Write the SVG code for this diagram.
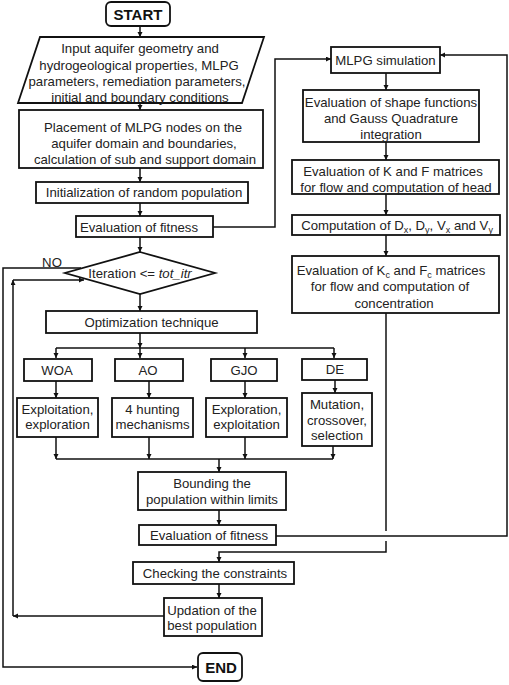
<svg xmlns="http://www.w3.org/2000/svg" width="509" height="685" viewBox="0 0 509 685">
<defs>
<marker id="arr" markerUnits="userSpaceOnUse" markerWidth="6" markerHeight="6" refX="5" refY="2.5" orient="auto">
<path d="M0,0 L5,2.5 L0,5 z" fill="#111"/>
</marker>
<style>
.box{fill:#fff;stroke:#111;stroke-width:1.8}
.t{font-family:"Liberation Sans",Arial,sans-serif;font-size:13.2px;fill:#222;text-anchor:middle}
.b{font-family:"Liberation Sans",Arial,sans-serif;font-size:15px;font-weight:bold;fill:#111;text-anchor:middle}
.c{fill:none;stroke:#111;stroke-width:1.5}
.a{fill:none;stroke:#111;stroke-width:1.5;marker-end:url(#arr)}
.s{font-size:9px}
</style>
</defs>
<rect width="509" height="685" fill="#fff"/>

<g id="connectors">
<path class="a" d="M140,26 V37"/>
<path class="a" d="M140,103 V110"/>
<path class="a" d="M140,168 V182"/>
<path class="a" d="M140,203 V216"/>
<path class="a" d="M140,237 V252"/>
<path class="a" d="M213,227 H275 V59 H331"/>
<path class="a" d="M386,73 V90"/>
<path class="a" d="M386,142 V160"/>
<path class="a" d="M386,194 V215"/>
<path class="a" d="M386,235 V256"/>
<path class="a" d="M140,294 V311"/>
<path class="a" d="M140,333 V348"/>
<path class="a" d="M140,348 V358"/>
<path class="c" d="M56,348 H334"/>
<path class="a" d="M56,348 V358"/>
<path class="a" d="M245,348 V358"/>
<path class="a" d="M334,348 V358"/>
<path class="a" d="M56,381 V398"/>
<path class="a" d="M149,381 V398"/>
<path class="a" d="M245,381 V398"/>
<path class="a" d="M335,380 V393"/>
<path class="a" d="M56,437 V459"/>
<path class="a" d="M149,437 V459"/>
<path class="a" d="M245,437 V459"/>
<path class="a" d="M333,446 V459"/>
<path class="c" d="M56,459 H333"/>
<path class="a" d="M219,459 V472"/>
<path class="a" d="M219,510 V525"/>
<path class="a" d="M276,536 H507 V55 H440"/>
<path class="c" d="M386,313 V531"/>
<path class="a" d="M386,541 V552 H219 V562"/>
<path class="a" d="M219,584 V598"/>
<path class="a" d="M164,616 H13"/>
<path class="a" d="M13,616 V280"/>
<path class="a" d="M13,280 H84"/>
<path class="a" d="M81,268 H3 V667 H197"/>
</g>

<g id="start">
<rect class="box" x="106" y="2" width="64" height="24" rx="5"/>
<text class="b" x="138" y="19.5">START</text>
</g>

<g id="input">
<polygon class="box" points="40,37 264,37 242,103 18,103"/>
<text class="t" x="140" y="53">Input aquifer geometry and</text>
<text class="t" x="139" y="69.5">hydrogeological properties, MLPG</text>
<text class="t" x="137" y="85.5">parameters, remediation parameters,</text>
<text class="t" x="140" y="101.5">initial and boundary conditions</text>
</g>

<g id="placement">
<rect class="box" x="19" y="110" width="244" height="58"/>
<text class="t" x="143" y="131.5">Placement of MLPG nodes on the</text>
<text class="t" x="144" y="147.5">aquifer domain and boundaries,</text>
<text class="t" x="145" y="163.5">calculation of sub and support domain</text>
</g>

<g id="init">
<rect class="box" x="36" y="182" width="212" height="21"/>
<text class="t" x="144" y="197">Initialization of random population</text>
</g>

<g id="eval1">
<rect class="box" x="76" y="216" width="137" height="21"/>
<text class="t" x="139" y="231.5">Evaluation of fitness</text>
</g>

<g id="decision">
<polygon class="box" points="140,252 215,273 140,294 65,273"/>
<text class="t" x="140" y="277.5">Iteration &lt;= <tspan font-style="italic">tot_itr</tspan></text>
<text class="t" x="52" y="266.5">NO</text>
</g>

<g id="optim">
<rect class="box" x="46" y="311" width="211" height="22"/>
<text class="t" x="151.5" y="326.5">Optimization technique</text>
</g>

<g id="woa">
<rect class="box" x="24" y="359" width="68" height="22"/>
<text class="t" x="57" y="374.5">WOA</text>
</g>
<g id="ao">
<rect class="box" x="115" y="359" width="68" height="22"/>
<text class="t" x="148" y="374.5">AO</text>
</g>
<g id="gjo">
<rect class="box" x="211" y="359" width="66" height="22"/>
<text class="t" x="244" y="374.5">GJO</text>
</g>
<g id="de">
<rect class="box" x="302" y="359" width="65" height="21"/>
<text class="t" x="335" y="374">DE</text>
</g>

<g id="woa2">
<rect class="box" x="17" y="398" width="81" height="39"/>
<text class="t" x="57.5" y="413.5">Exploitation,</text>
<text class="t" x="57.5" y="429">exploration</text>
</g>
<g id="ao2">
<rect class="box" x="112" y="398" width="81" height="39"/>
<text class="t" x="152.5" y="413.5">4 hunting</text>
<text class="t" x="152.5" y="429">mechanisms</text>
</g>
<g id="gjo2">
<rect class="box" x="206" y="398" width="81" height="39"/>
<text class="t" x="246.5" y="413.5">Exploration,</text>
<text class="t" x="246.5" y="429">exploitation</text>
</g>
<g id="de2">
<rect class="box" x="302" y="393" width="70" height="53"/>
<text class="t" x="337" y="408.5">Mutation,</text>
<text class="t" x="337" y="424.5">crossover,</text>
<text class="t" x="337" y="440">selection</text>
</g>

<g id="bounding">
<rect class="box" x="138" y="472" width="148" height="38"/>
<text class="t" x="212" y="487.5">Bounding the</text>
<text class="t" x="212" y="503.5">population within limits</text>
</g>

<g id="eval2">
<rect class="box" x="139" y="525" width="137" height="20"/>
<text class="t" x="209" y="539.5">Evaluation of fitness</text>
</g>

<g id="checking">
<rect class="box" x="133" y="562" width="161" height="22"/>
<text class="t" x="215" y="577.5">Checking the constraints</text>
</g>

<g id="updation">
<rect class="box" x="164" y="598" width="98" height="38"/>
<text class="t" x="212" y="614.5">Updation of the</text>
<text class="t" x="212" y="630">best population</text>
</g>

<g id="end">
<rect class="box" x="198" y="653" width="44" height="28" rx="5"/>
<text class="b" x="221" y="672.5">END</text>
</g>

<g id="mlpg">
<rect class="box" x="331" y="47" width="109" height="26"/>
<text class="t" x="385.5" y="64.5">MLPG simulation</text>
</g>

<g id="shape">
<rect class="box" x="303" y="90" width="176" height="52"/>
<text class="t" x="391" y="106.5">Evaluation of shape functions</text>
<text class="t" x="391" y="122.5">and Gauss Quadrature</text>
<text class="t" x="391" y="138.5">integration</text>
</g>

<g id="kf">
<rect class="box" x="292" y="160" width="207" height="34"/>
<text class="t" x="393" y="175.5">Evaluation of K and F matrices</text>
<text class="t" x="396" y="191.5">for flow and computation of head</text>
</g>

<g id="comp">
<rect class="box" x="292" y="215" width="208" height="20"/>
<text class="t" x="397" y="229.5">Computation of D<tspan class="s" dy="3">x</tspan><tspan dy="-3">, D</tspan><tspan class="s" dy="3">y</tspan><tspan dy="-3">, V</tspan><tspan class="s" dy="3">x</tspan><tspan dy="-3"> and V</tspan><tspan class="s" dy="3">y</tspan></text>
</g>

<g id="kcfc">
<rect class="box" x="292" y="256" width="207" height="57"/>
<text class="t" x="391" y="274.5">Evaluation of K<tspan class="s" dy="3">c</tspan><tspan dy="-3"> and F</tspan><tspan class="s" dy="3">c</tspan><tspan dy="-3"> matrices</tspan></text>
<text class="t" x="390" y="291">for flow and computation of</text>
<text class="t" x="394" y="307.5">concentration</text>
</g>
</svg>
